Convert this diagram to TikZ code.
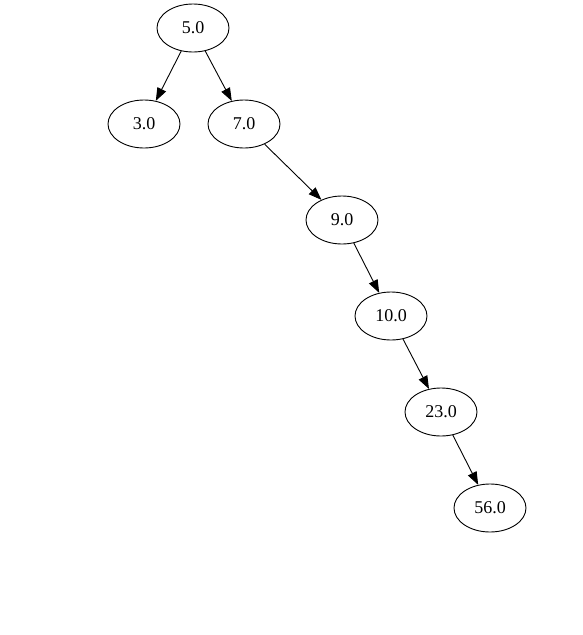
\documentclass[tikz,border=0pt]{standalone}
\usepackage{fontspec}
\setmainfont{Liberation Serif}
\usetikzlibrary{shapes.geometric,arrows.meta}
\begin{document}
\begin{tikzpicture}[x=1pt,y=-1pt,
  tnode/.style={ellipse,draw,line width=0.9pt,minimum width=72pt,minimum height=48pt,inner sep=0pt,font=\fontsize{18}{20}\selectfont},
  edge/.style={line width=0.9pt,-{Triangle[length=13pt,width=9.5pt]}}]
\useasboundingbox (0,0) rectangle (583,635);
\node[tnode] (n5) at (193,28) {5.0};
\node[tnode] (n3) at (144,124) {3.0};
\node[tnode] (n7) at (244,124) {7.0};
\node[tnode] (n9) at (342,220) {9.0};
\node[tnode] (n10) at (391,316) {10.0};
\node[tnode] (n23) at (441,412) {23.0};
\node[tnode] (n56) at (490,508) {56.0};
\draw[edge] (n5) -- (n3);
\draw[edge] (n5) -- (n7);
\draw[edge] (n7) -- (n9);
\draw[edge] (n9) -- (n10);
\draw[edge] (n10) -- (n23);
\draw[edge] (n23) -- (n56);
\end{tikzpicture}
\end{document}
